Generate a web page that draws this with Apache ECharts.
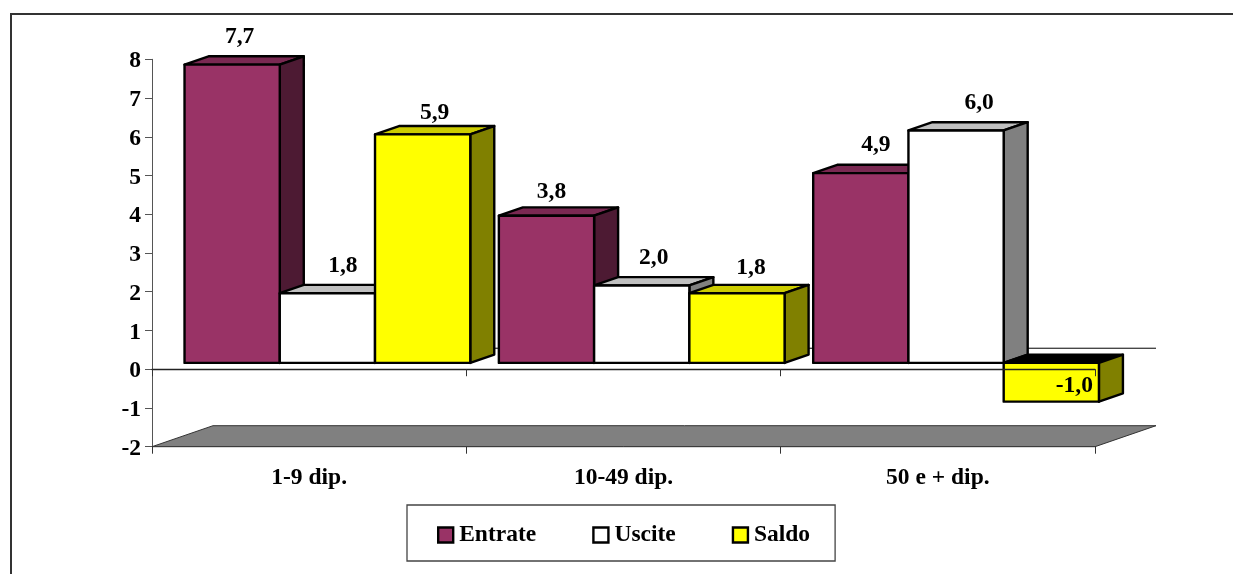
<!DOCTYPE html>
<html>
<head>
<meta charset="utf-8">
<style>html,body{margin:0;padding:0;background:#fff}#c{width:1233px;height:574px}</style>
<script src="https://cdn.jsdelivr.net/npm/echarts@6/dist/echarts.min.js"></script>
</head>
<body>
<div id="c"></div>
<script>
const categories = ['1-9 dip.', '10-49 dip.', '50 e + dip.'];
const entrate = [7.7, 3.8, 4.9];
const uscite = [1.8, 2.0, 6.0];
const saldo = [5.9, 1.8, -1.0];
const yTicks = [-2, 8];

const FONT = 'bold 23.5px "Liberation Serif", "Times New Roman", serif';
const INK = '#000';
// 3D projection used by the drawing functions
const BAR_DX = 24, BAR_DY = -8.3, FRONT_DY = -6.3;
const FLOOR_DX = 61, FLOOR_DY = -21;
const BAR_START = 0.1035, BAR_WIDTH = 0.303;
// label displacement from the top-centre of each bar's front face, by series then category
const labelShift = [
  [[7.5, -27.5], [5, -24], [15, -28.5]],
  [[15.5, -27], [12, -28], [23, -27.5]],
  [[12, -21.5], [14, -25], [23, 23]]
];
const looks = [
  { front: '#993366', top: '#7A2952', side: '#4D1A33' },
  { front: '#FFFFFF', top: '#C0C0C0', side: '#808080' },
  { front: '#FFFF00', top: '#CCCC00', side: '#808000' }
];

function bar3d(seriesIdx) {
  const look = looks[seriesIdx];
  return function (params, api) {
    const cat = api.value(0), val = api.value(1);
    const p0 = api.coord([cat, 0]), pv = api.coord([cat, val]);
    const band = api.size([1, 0])[0];
    const x0 = p0[0] - band / 2 + band * (BAR_START + BAR_WIDTH * seriesIdx);
    const x1 = x0 + band * BAR_WIDTH;
    const yT = Math.min(p0[1], pv[1]) + FRONT_DY;
    const yB = Math.max(p0[1], pv[1]) + FRONT_DY;
    const stroke = { stroke: INK, lineWidth: 2.4, lineJoin: 'round' };
    const poly = (pts, fill) => ({ type: 'polygon', shape: { points: pts }, style: Object.assign({ fill }, stroke) });
    const shift = labelShift[seriesIdx][cat];
    return {
      type: 'group',
      children: [
        poly([[x0, yT], [x0 + BAR_DX, yT + BAR_DY], [x1 + BAR_DX, yT + BAR_DY], [x1, yT]], val < 0 ? '#000' : look.top),
        poly([[x1, yT], [x1 + BAR_DX, yT + BAR_DY], [x1 + BAR_DX, yB + BAR_DY], [x1, yB]], look.side),
        poly([[x0, yT], [x1, yT], [x1, yB], [x0, yB]], look.front),
        {
          type: 'text', z2: 100,
          style: {
            x: (x0 + x1) / 2 + shift[0], y: yT + shift[1],
            text: val.toFixed(1).replace('.', ','),
            font: FONT, fill: INK, textAlign: 'center', textVerticalAlign: 'middle'
          }
        }
      ]
    };
  };
}

function floor3d(params, api) {
  const first = api.coord([0, api.value(1)]);
  const zero = api.coord([0, 0]);
  const band = api.size([1, 0])[0];
  const xL = first[0] - band / 2, xR = xL + band * categories.length, y = first[1];
  return {
    type: 'group',
    children: [
      { type: 'polygon', shape: { points: [[xL, y], [xL + FLOOR_DX, y + FLOOR_DY], [xR + FLOOR_DX, y + FLOOR_DY], [xR, y]] },
        style: { fill: '#808080', stroke: '#333', lineWidth: 1 } },
      { type: 'line', shape: { x1: xL + FLOOR_DX, y1: zero[1] + FLOOR_DY, x2: xR + FLOOR_DX, y2: zero[1] + FLOOR_DY },
        style: { stroke: INK, lineWidth: 1 } }
    ]
  };
}

const toPairs = arr => arr.map((v, i) => [i, v]);
const names = ['Entrate', 'Uscite', 'Saldo'];
const values = [entrate, uscite, saldo];
const textStyle = { fontFamily: '"Liberation Serif", "Times New Roman", serif', fontWeight: 'bold', fontSize: 23.5, color: INK };

const chart = echarts.init(document.getElementById('c'));
chart.setOption({
  animation: false,
  backgroundColor: '#fff',
  graphic: [{ type: 'rect', silent: true, shape: { x: 11, y: 14, width: 1400, height: 800 }, style: { fill: 'none', stroke: '#333', lineWidth: 2 } }],
  grid: { left: 152, right: 138, top: 59.3, bottom: 127.3 },
  legend: {
    left: 407, top: 505,
    data: names,
    icon: 'rect', itemWidth: 15, itemHeight: 15, itemGap: 56,
    padding: [18, 25, 14, 30],
    borderColor: '#444', borderWidth: 1.3, backgroundColor: '#fff',
    selectedMode: false,
    textStyle: Object.assign({}, textStyle, { padding: [2, 0, 0, 1] }),
    itemStyle: { borderColor: INK, borderWidth: 2.4 }
  },
  xAxis: [
    {
      type: 'category', data: categories, position: 'bottom',
      axisLine: { onZero: false, lineStyle: { color: '#222', width: 1 } },
      axisTick: { show: true, length: 7, alignWithLabel: false, lineStyle: { color: '#333' } },
      axisLabel: Object.assign({ margin: 19 }, textStyle),
      splitLine: { show: false }
    },
    {
      type: 'category', data: categories, position: 'bottom', z: 5,
      axisLine: { onZero: true, lineStyle: { color: '#222', width: 1.3 } },
      axisTick: { show: true, length: 7, lineStyle: { color: '#333' } },
      axisLabel: { show: false },
      splitLine: { show: false }
    }
  ],
  yAxis: {
    type: 'value', min: yTicks[0], max: yTicks[1], interval: 1,
    axisLine: { show: true, onZero: false, lineStyle: { color: '#555', width: 1 } },
    axisTick: { show: true, length: 7, lineStyle: { color: '#555' } },
    axisLabel: {
      margin: 11,
      formatter: '{n|{value}}',
      rich: { n: Object.assign({ padding: [4, 0, 0, 0] }, textStyle) }
    },
    splitLine: { show: false }
  },
  series: [
    { type: 'custom', name: 'floor', silent: true, z: 1, xAxisIndex: 0, renderItem: floor3d, data: [[0, yTicks[0]]] }
  ].concat(names.map((name, i) => ({
    type: 'custom', name, z: 2, xAxisIndex: 0, silent: true,
    renderItem: bar3d(i),
    itemStyle: { color: looks[i].front },
    encode: { x: 0, y: 1 },
    data: toPairs(values[i])
  })))
});
</script>
</body>
</html>
